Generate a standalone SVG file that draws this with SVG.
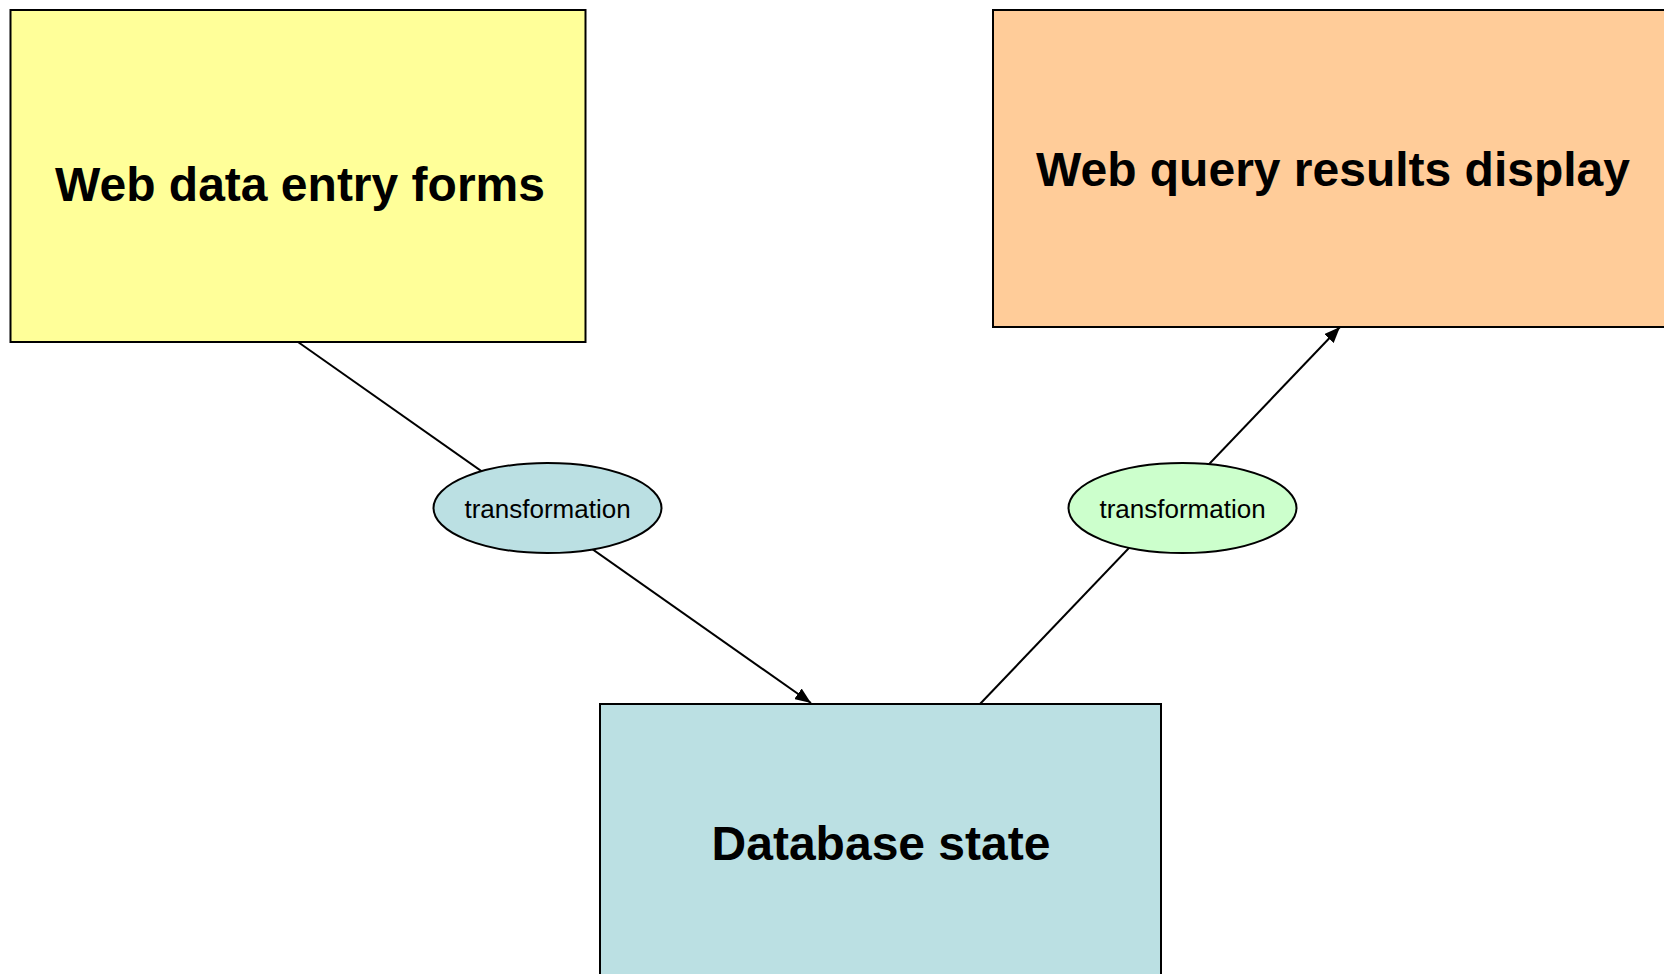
<svg xmlns="http://www.w3.org/2000/svg" width="1664" height="974" viewBox="0 0 1664 974">
  <style>
    .box { stroke: #000; stroke-width: 2; }
    .ell { stroke: #000; stroke-width: 2; }
    .big { font-family: "Liberation Sans", Arial, sans-serif; font-weight: bold; font-size: 48px; text-anchor: middle; fill: #000; }
    .small { font-family: "Liberation Sans", Arial, sans-serif; font-size: 26px; text-anchor: middle; fill: #000; }
    .conn { stroke: #000; stroke-width: 2; fill: none; }
  </style>
  <defs>
    <marker id="arrow" markerUnits="userSpaceOnUse" markerWidth="17" markerHeight="13" refX="16" refY="6.5" orient="auto">
      <path d="M0,0 L16,6.5 L0,13 z" fill="#000"/>
    </marker>
  </defs>
  <rect width="1664" height="974" fill="#fff"/>
  <g id="connectors">
    <line class="conn" x1="298" y1="342" x2="811" y2="703" marker-end="url(#arrow)"/>
    <line class="conn" x1="980" y1="704" x2="1340" y2="327" marker-end="url(#arrow)"/>
  </g>
  <g id="web-entry">
    <rect class="box" x="10.5" y="10" width="575" height="332" fill="#FFFF99"/>
    <text class="big" x="300" y="201">Web data entry forms</text>
  </g>
  <g id="web-query">
    <rect class="box" x="993" y="10" width="690" height="317" fill="#FFCC99"/>
    <text class="big" x="1333" y="186">Web query results display</text>
  </g>
  <g id="database">
    <rect class="box" x="600" y="704" width="561" height="300" fill="#BBE0E3"/>
    <text class="big" x="881" y="860">Database state</text>
  </g>
  <g id="transform-1">
    <ellipse class="ell" cx="547.5" cy="508" rx="114" ry="45" fill="#BBE0E3"/>
    <text class="small" x="547.5" y="518">transformation</text>
  </g>
  <g id="transform-2">
    <ellipse class="ell" cx="1182.5" cy="508" rx="114" ry="45" fill="#CCFFCC"/>
    <text class="small" x="1182.5" y="518">transformation</text>
  </g>
</svg>
